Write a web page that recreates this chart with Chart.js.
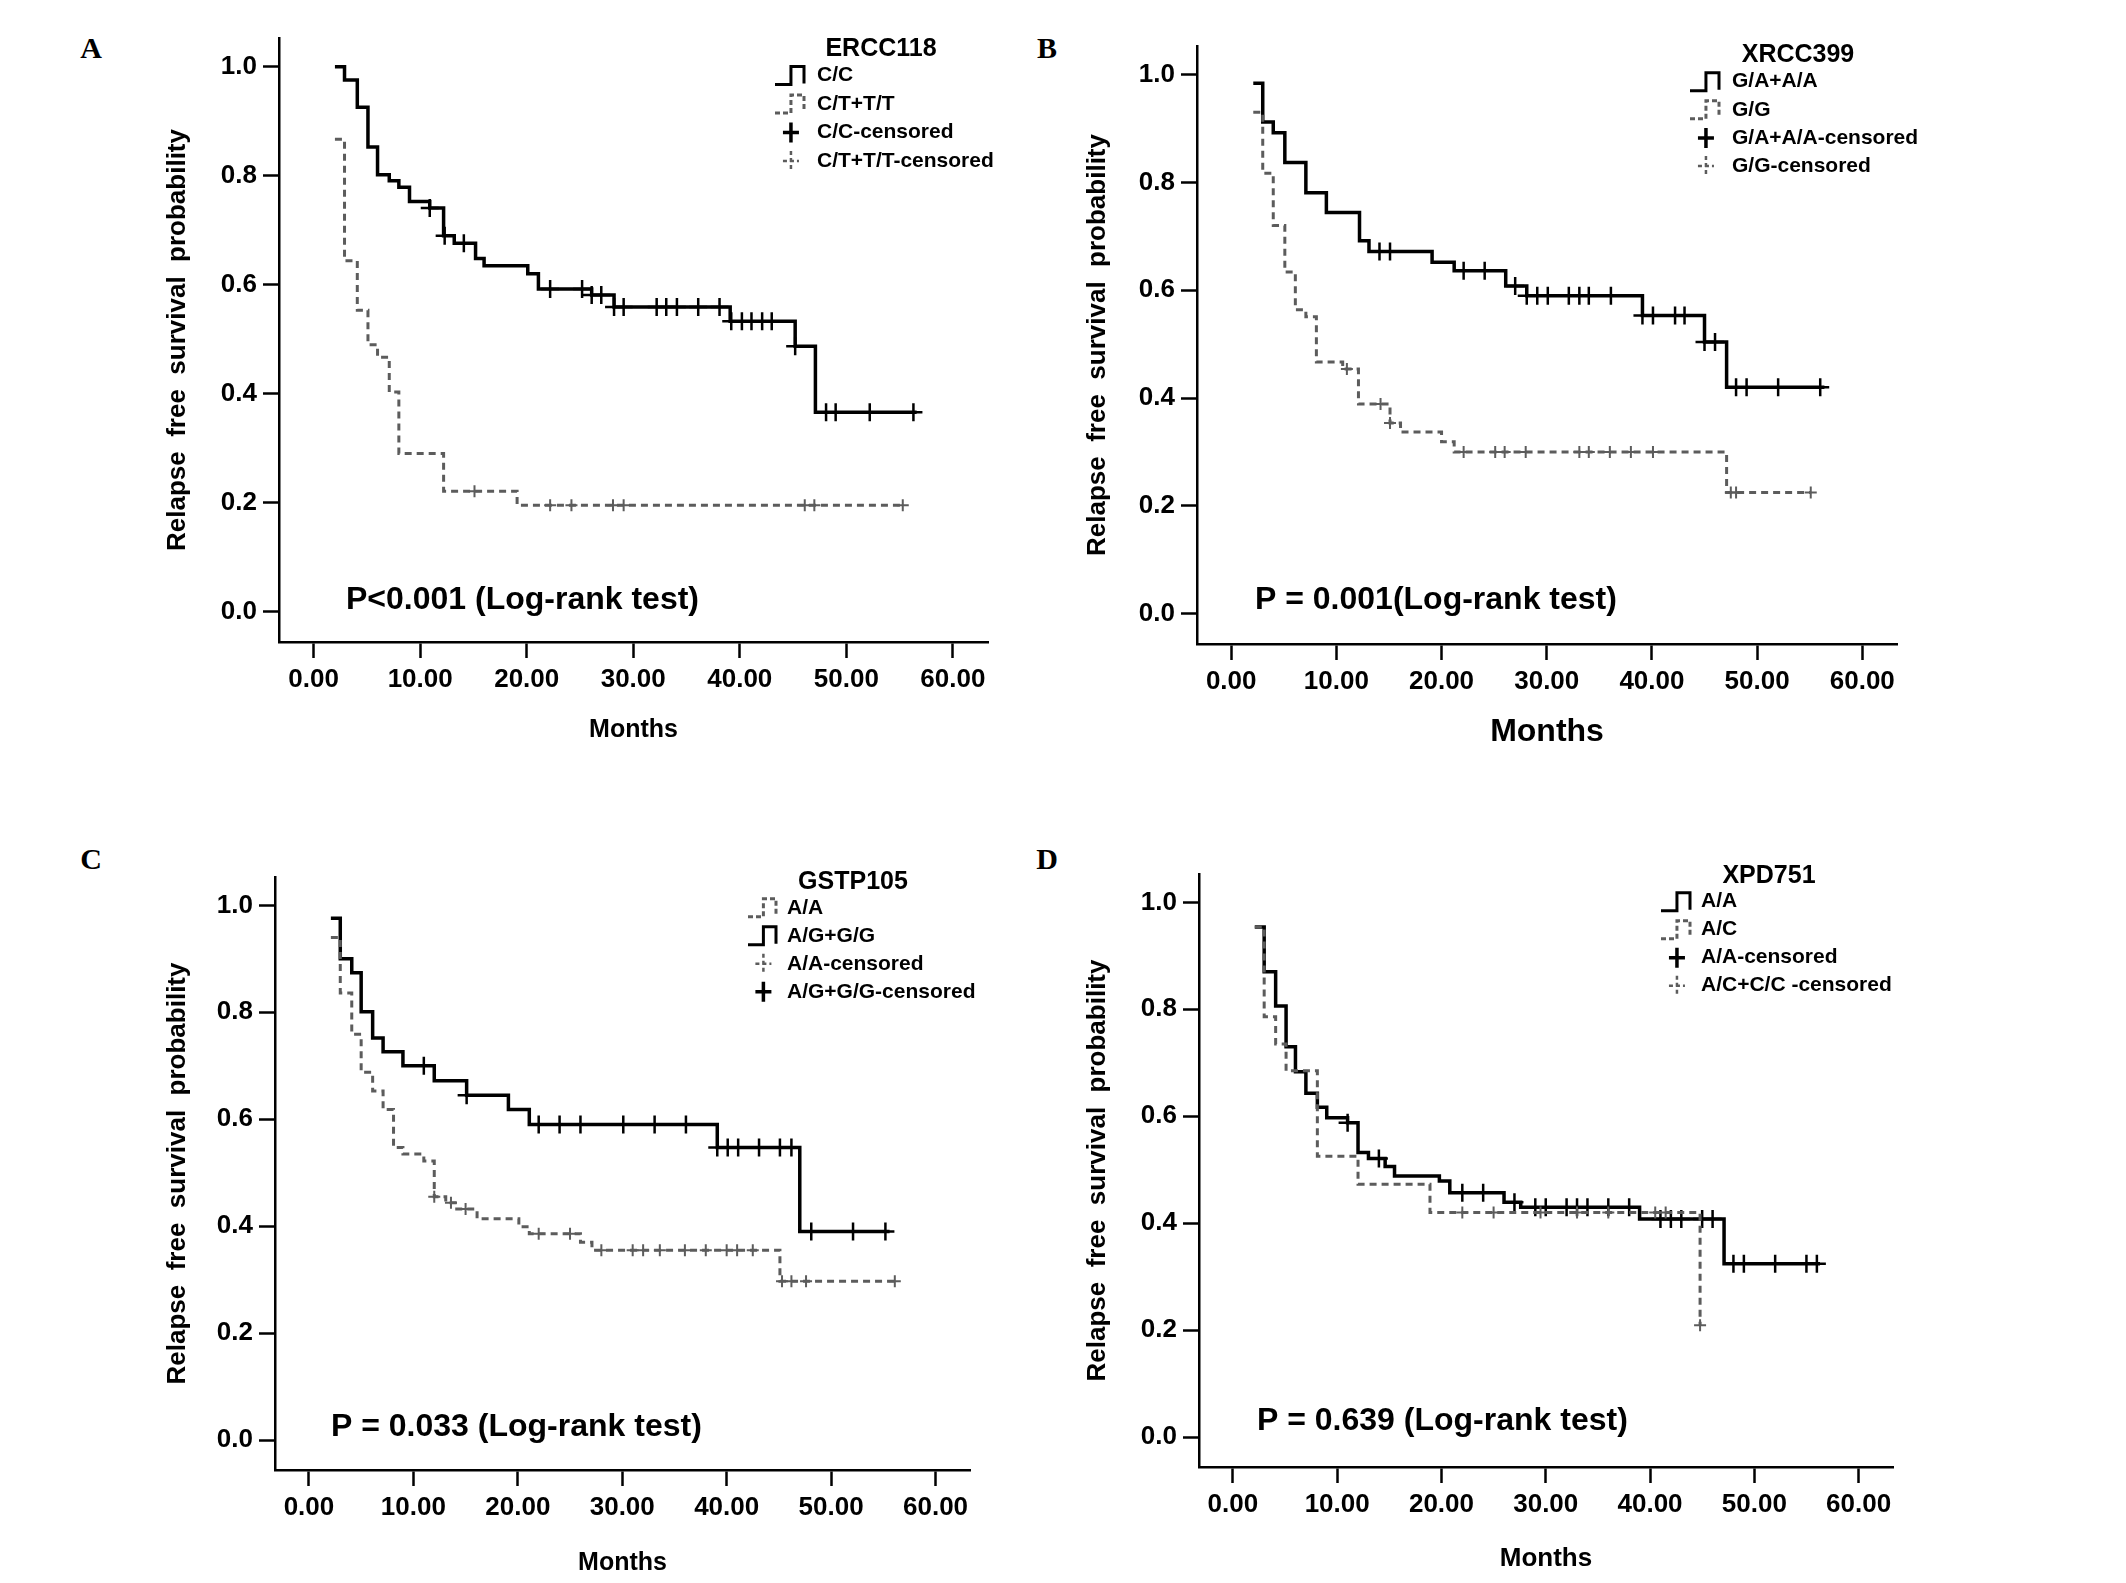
<!DOCTYPE html>
<html>
<head>
<meta charset="utf-8">
<script src="https://cdn.jsdelivr.net/npm/chart.js@4"></script>
<style>
body { margin:0; background:#fff; width:2126px; height:1583px; overflow:hidden; position:relative; }
canvas { position:absolute; }
.tag { position:absolute; font:bold 30px "Liberation Serif", "Times New Roman", serif; transform:translate(-50%,-50%); }
</style>
</head>
<body>
<div class="tag" style="left:91px;top:48px">A</div>
<div class="tag" style="left:1047px;top:48px">B</div>
<div class="tag" style="left:91px;top:859px">C</div>
<div class="tag" style="left:1047px;top:859px">D</div>
<canvas id="chartA"></canvas>
<canvas id="chartB"></canvas>
<canvas id="chartC"></canvas>
<canvas id="chartD"></canvas>
<script>
var xTicks = [0, 10, 20, 30, 40, 50, 60]
var yTicks = [0, 0.2, 0.4, 0.6, 0.8, 1.0]

// A - ERCC118
var timeA_cc = [2.0, 2.9, 4.1, 5.1, 6.0, 7.1, 8.0, 9.0, 10.9, 12.2, 13.2, 15.2, 16.0, 20.1, 21.1, 26.1, 28.2, 39.1, 45.2, 47.1, 56.6]
var survA_cc = [1.0, 0.976, 0.926, 0.853, 0.802, 0.791, 0.779, 0.753, 0.741, 0.69, 0.676, 0.648, 0.635, 0.62, 0.592, 0.581, 0.559, 0.533, 0.487, 0.366, 0.366]
var censA_cc = [10.9, 12.3, 14.1, 22.2, 25.2, 26.1, 27.0, 28.2, 29.1, 32.2, 33.1, 34.1, 36.1, 38.1, 39.2, 40.2, 41.1, 42.1, 43.0, 45.2, 48.1, 49.0, 52.2, 56.3]
var timeA_ct = [2.0, 2.9, 4.1, 5.1, 6.0, 7.1, 8.0, 12.2, 19.1, 55.3]
var survA_ct = [0.867, 0.644, 0.553, 0.49, 0.467, 0.403, 0.29, 0.221, 0.195, 0.195]
var censA_ct = [15.1, 22.2, 24.2, 28.1, 29.1, 46.1, 47.0, 55.3]

// B - XRCC399
var timeB_ga = [2.1, 3.0, 4.0, 5.1, 7.1, 9.05, 12.2, 13.1, 19.1, 21.2, 26.1, 28.1, 39.1, 45.0, 47.1, 56.4]
var survB_ga = [0.984, 0.912, 0.892, 0.837, 0.781, 0.744, 0.692, 0.672, 0.652, 0.636, 0.608, 0.59, 0.553, 0.504, 0.42, 0.42]
var censB_ga = [14.1, 15.1, 22.1, 24.1, 27.0, 28.1, 29.1, 30.1, 32.1, 33.1, 34.0, 36.1, 39.1, 40.1, 42.2, 43.1, 45.0, 46.0, 48.0, 49.0, 52.0, 56.0]
var timeB_gg = [2.1, 3.0, 4.0, 5.1, 6.1, 7.1, 8.1, 10.6, 12.1, 15.1, 16.1, 20.0, 21.2, 47.1, 55.1]
var survB_gg = [0.93, 0.817, 0.72, 0.634, 0.564, 0.551, 0.467, 0.454, 0.389, 0.354, 0.337, 0.319, 0.3, 0.225, 0.225]
var censB_gg = [11.0, 14.2, 15.1, 22.1, 25.1, 26.0, 28.0, 33.1, 34.0, 36.0, 38.0, 40.1, 47.5, 48.0, 55.1]

// C - GSTP105
var timeC_ag = [2.1, 3.0, 4.1, 5.0, 6.1, 7.1, 9.0, 12.0, 15.1, 19.1, 21.1, 39.1, 47.0, 55.6]
var survC_ag = [0.976, 0.9, 0.874, 0.801, 0.752, 0.726, 0.7, 0.672, 0.645, 0.618, 0.59, 0.547, 0.39, 0.39]
var censC_ag = [11.0, 15.1, 22.0, 24.0, 26.0, 30.1, 33.1, 36.1, 39.1, 40.1, 41.1, 43.1, 45.1, 46.2, 48.1, 52.1, 55.2]
var timeC_aa = [2.1, 3.0, 4.1, 5.0, 6.1, 7.1, 8.1, 9.0, 11.0, 12.0, 13.1, 14.0, 16.1, 20.1, 21.1, 26.0, 27.1, 45.1, 56.1]
var survC_aa = [0.94, 0.836, 0.759, 0.688, 0.653, 0.618, 0.547, 0.535, 0.522, 0.455, 0.444, 0.432, 0.414, 0.399, 0.386, 0.37, 0.355, 0.297, 0.297]
var censC_aa = [12.0, 13.6, 15.0, 22.0, 25.0, 28.0, 31.0, 32.0, 33.6, 36.0, 38.0, 40.0, 41.0, 42.5, 45.3, 46.2, 47.6, 56.1]

// D - XPD751
var timeD_aa = [2.1, 3.0, 4.1, 5.1, 6.0, 7.0, 8.1, 9.0, 11.0, 12.0, 13.0, 14.6, 15.5, 19.8, 20.8, 26.0, 27.6, 39.0, 47.1, 56.3]
var survD_aa = [0.954, 0.87, 0.806, 0.73, 0.683, 0.643, 0.617, 0.597, 0.588, 0.532, 0.521, 0.506, 0.488, 0.479, 0.457, 0.439, 0.43, 0.408, 0.324, 0.324]
var censD_aa = [11.0, 14.0, 22.0, 24.0, 27.0, 29.0, 30.0, 32.0, 33.0, 34.0, 36.0, 38.0, 41.0, 42.0, 43.0, 45.0, 46.0, 48.0, 49.0, 52.0, 55.0, 56.0]
var timeD_ac = [2.1, 3.0, 4.1, 5.1, 8.1, 12.0, 18.9, 44.8]
var survD_ac = [0.954, 0.786, 0.735, 0.685, 0.525, 0.473, 0.42, 0.209]
var censD_ac = [22.0, 25.0, 29.5, 33.0, 36.0, 40.5, 41.5, 44.8]

var GREY = '#5c5c5c'
var FONT = '"Liberation Sans", Arial, sans-serif'
var NARROW = '"Liberation Sans Narrow", "Arial Narrow", "Liberation Sans", sans-serif'

function survAt(times, surv, t) {
  var s = surv[0]
  for (var i = 0; i < times.length; i++) {
    if (times[i] <= t + 1e-9) s = surv[i]
  }
  return s
}

function curve(label, times, surv, grey) {
  return {
    label: label,
    data: times.map(function(t, i) { return {x: t, y: surv[i]} }),
    showLine: true,
    stepped: 'before',
    pointRadius: 0,
    borderColor: grey ? GREY : '#000',
    borderWidth: grey ? 3 : 3.5,
    borderDash: grey ? [7, 5] : [],
    fill: false
  }
}

function marks(label, cens, times, surv, grey) {
  return {
    label: label,
    data: cens.map(function(t) { return {x: t, y: survAt(times, surv, t)} }),
    showLine: false,
    pointStyle: 'cross',
    pointRadius: grey ? 6 : 9,
    borderColor: grey ? GREY : '#000',
    borderWidth: grey ? 2 : 2.5
  }
}

var panels = [
  { id: 'chartA', box: {l: 279, t: 38, r: 988, b: 642}, yTitleX: 178, monthsY: 730, monthsSize: 25,
    datasets: [
      curve('C/T+T/T', timeA_ct, survA_ct, true), marks('C/T+T/T-censored', censA_ct, timeA_ct, survA_ct, true),
      curve('C/C', timeA_cc, survA_cc, false), marks('C/C-censored', censA_cc, timeA_cc, survA_cc, false)],
    pText: 'P<0.001 (Log-rank test)', pX: 346, pY: 600,
    legTitle: 'ERCC118', legTitleX: 881, legTitleY: 49,
    legRows: [['solid', 'C/C'], ['dashed', 'C/T+T/T'], ['cross', 'C/C-censored'], ['crossGrey', 'C/T+T/T-censored']],
    legX: 817, glyph: [775, 804], rowY: 75.5, rowGap: 28.5 },
  { id: 'chartB', box: {l: 1197, t: 46, r: 1897, b: 644}, yTitleX: 1098, monthsY: 732, monthsSize: 32,
    datasets: [
      curve('G/G', timeB_gg, survB_gg, true), marks('G/G-censored', censB_gg, timeB_gg, survB_gg, true),
      curve('G/A+A/A', timeB_ga, survB_ga, false), marks('G/A+A/A-censored', censB_ga, timeB_ga, survB_ga, false)],
    pText: 'P = 0.001(Log-rank test)', pX: 1255, pY: 600,
    legTitle: 'XRCC399', legTitleX: 1798, legTitleY: 55.5,
    legRows: [['solid', 'G/A+A/A'], ['dashed', 'G/G'], ['cross', 'G/A+A/A-censored'], ['crossGrey', 'G/G-censored']],
    legX: 1732, glyph: [1690, 1719], rowY: 81.7, rowGap: 28.1 },
  { id: 'chartC', box: {l: 275, t: 877, r: 970, b: 1470}, yTitleX: 178, monthsY: 1563, monthsSize: 25,
    datasets: [
      curve('A/A', timeC_aa, survC_aa, true), marks('A/A-censored', censC_aa, timeC_aa, survC_aa, true),
      curve('A/G+G/G', timeC_ag, survC_ag, false), marks('A/G+G/G-censored', censC_ag, timeC_ag, survC_ag, false)],
    pText: 'P = 0.033 (Log-rank test)', pX: 331, pY: 1427,
    legTitle: 'GSTP105', legTitleX: 853, legTitleY: 881.7,
    legRows: [['dashed', 'A/A'], ['solid', 'A/G+G/G'], ['crossGrey', 'A/A-censored'], ['cross', 'A/G+G/G-censored']],
    legX: 787, glyph: [748, 776], rowY: 907.8, rowGap: 28 },
  { id: 'chartD', box: {l: 1199, t: 874, r: 1893, b: 1467}, yTitleX: 1098, monthsY: 1559, monthsSize: 26,
    datasets: [
      curve('A/C', timeD_ac, survD_ac, true), marks('A/C+C/C -censored', censD_ac, timeD_ac, survD_ac, true),
      curve('A/A', timeD_aa, survD_aa, false), marks('A/A-censored', censD_aa, timeD_aa, survD_aa, false)],
    pText: 'P = 0.639 (Log-rank test)', pX: 1257, pY: 1421,
    legTitle: 'XPD751', legTitleX: 1769, legTitleY: 876.5,
    legRows: [['solid', 'A/A'], ['dashed', 'A/C'], ['cross', 'A/A-censored'], ['crossGrey', 'A/C+C/C -censored']],
    legX: 1701, glyph: [1661, 1690], rowY: 901.7, rowGap: 28 }
]

var LEFT_W = 180, TOP_P = 30, RIGHT_P = 60, BOTTOM_H = 140

function drawGlyph(ctx, kind, x0, x1, y) {
  var xm = x0 + (x1 - x0) * 0.55
  ctx.save()
  if (kind == 'solid' || kind == 'dashed') {
    ctx.strokeStyle = kind == 'solid' ? '#000' : GREY
    ctx.lineWidth = 3
    if (kind == 'dashed') ctx.setLineDash([5, 3])
    ctx.beginPath()
    ctx.moveTo(x0, y + 9)
    ctx.lineTo(xm, y + 9)
    ctx.lineTo(xm, y - 9)
    ctx.lineTo(x1, y - 9)
    ctx.lineTo(x1, y + 8)
    ctx.stroke()
  } else {
    ctx.strokeStyle = kind == 'cross' ? '#000' : GREY
    ctx.lineWidth = kind == 'cross' ? 3.5 : 2.5
    if (kind == 'crossGrey') ctx.setLineDash([4, 3])
    ctx.beginPath()
    ctx.moveTo(xm, y - 10)
    ctx.lineTo(xm, y + 10)
    ctx.moveTo(xm - 8, y)
    ctx.lineTo(xm + 8, y)
    ctx.stroke()
  }
  ctx.restore()
}

function makeAnnot(p, ox, oy) {
  return {
    id: 'annot',
    afterDraw: function(chart) {
      var ctx = chart.ctx
      ctx.save()
      ctx.translate(-ox, -oy)
      ctx.fillStyle = '#000'
      ctx.textBaseline = 'middle'
      ctx.textAlign = 'center'
      ctx.font = 'bold 25px ' + NARROW
      ctx.fillText(p.legTitle, p.legTitleX, p.legTitleY)
      ctx.textAlign = 'left'
      ctx.font = 'bold 21px ' + FONT
      p.legRows.forEach(function(r, i) {
        var y = p.rowY + i * p.rowGap
        drawGlyph(ctx, r[0], p.glyph[0], p.glyph[1], y)
        ctx.fillStyle = '#000'
        ctx.fillText(r[1], p.legX, y)
      })
      ctx.font = 'bold 32px ' + FONT
      ctx.fillText(p.pText, p.pX, p.pY)
      ctx.restore()
    }
  }
}

panels.forEach(function(p) {
  var cv = document.getElementById(p.id)
  var ox = p.box.l - LEFT_W, oy = p.box.t - TOP_P
  var w = p.box.r - p.box.l + LEFT_W + RIGHT_P
  var h = p.box.b - p.box.t + TOP_P + BOTTOM_H
  cv.style.left = ox + 'px'
  cv.style.top = oy + 'px'
  cv.width = w
  cv.height = h

  var tickFont = {family: FONT, size: 26, weight: 'bold'}
  var grid = {display: true, drawOnChartArea: false, drawTicks: true, tickLength: 16, tickWidth: 2.5, tickColor: '#000'}
  var border = {display: true, color: '#000', width: 2.5}

  new Chart(cv, {
    type: 'scatter',
    data: {datasets: p.datasets},
    options: {
      responsive: false,
      animation: false,
      devicePixelRatio: 1,
      events: [],
      layout: {padding: {top: TOP_P, right: RIGHT_P, left: 0, bottom: 0}},
      plugins: {legend: {display: false}, tooltip: {enabled: false}},
      scales: {
        x: {
          type: 'linear', min: -3.25, max: 63.3,
          grid: grid, border: border,
          afterBuildTicks: function(s) { s.ticks = xTicks.map(function(v) { return {value: v} }) },
          afterFit: function(s) { s.height = BOTTOM_H },
          ticks: {font: tickFont, color: '#000', padding: 6, autoSkip: false, maxRotation: 0,
            callback: function(v) { return v.toFixed(2) }},
          title: {display: true, text: 'Months', color: '#000',
            font: {family: FONT, size: p.monthsSize, weight: 'bold'},
            padding: {top: 0, bottom: (p.box.b + BOTTOM_H) - p.monthsY - p.monthsSize * 0.6}}
        },
        y: {
          type: 'linear', min: -0.056, max: 1.053,
          grid: grid, border: border,
          afterBuildTicks: function(s) { s.ticks = yTicks.map(function(v) { return {value: v} }) },
          afterFit: function(s) { s.width = LEFT_W },
          ticks: {font: tickFont, color: '#000', padding: 6, autoSkip: false,
            callback: function(v) { return v.toFixed(1) }},
          title: {display: true, text: 'Relapse  free  survival  probability', color: '#000',
            font: {family: FONT, size: 26, weight: 'bold'},
            padding: {top: p.yTitleX - ox - 15.6, bottom: 0}}
        }
      }
    },
    plugins: [makeAnnot(p, ox, oy)]
  })
})
</script>
</body>
</html>
